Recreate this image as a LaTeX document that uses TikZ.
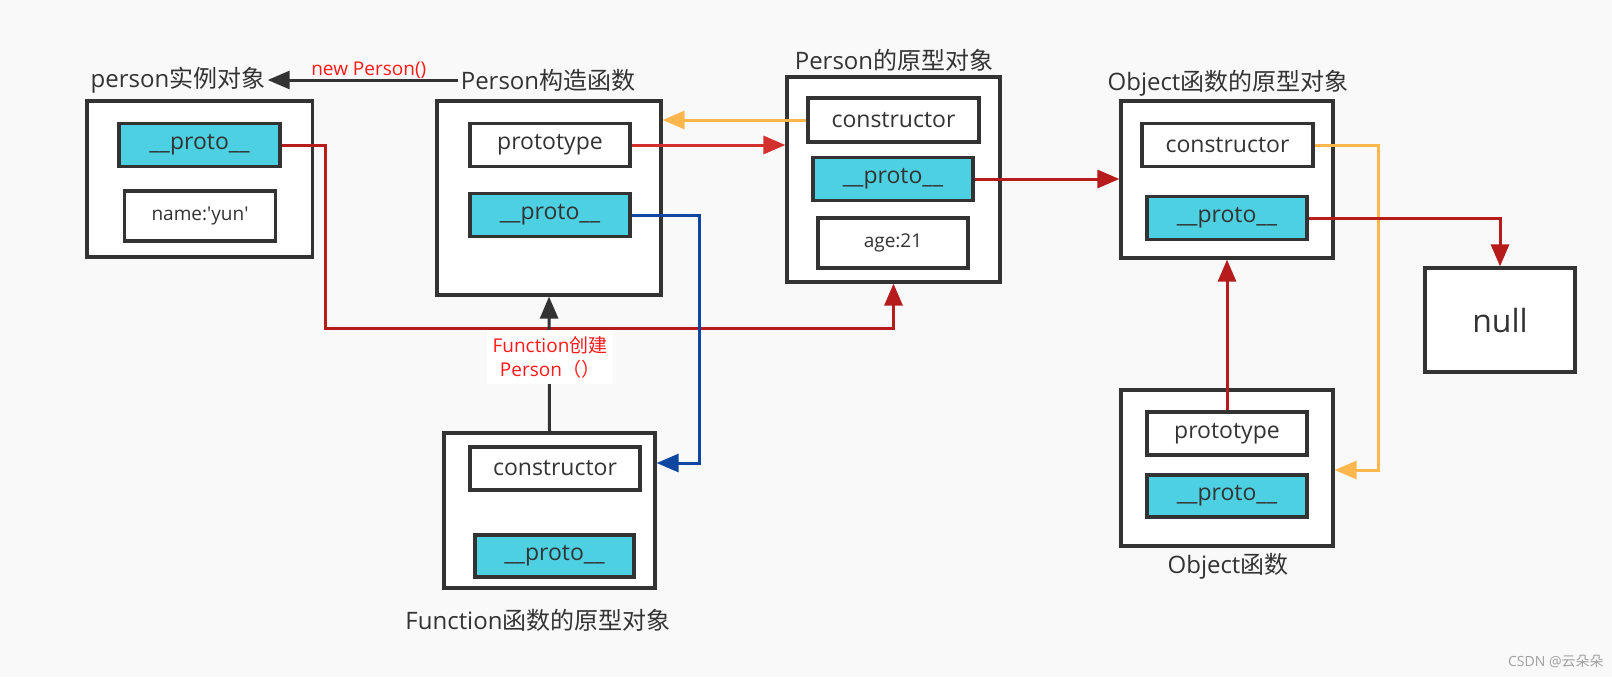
\documentclass[tikz,border=0pt]{standalone}
\usepackage{fontspec}
\setmainfont{Open Sans}
\newfontfamily\cjk{Noto Sans CJK SC}
\usetikzlibrary{arrows.meta,calc}
\definecolor{bg}{HTML}{F9F9F9}
\definecolor{bd}{HTML}{333333}
\definecolor{cy}{HTML}{4DD0E1}
\definecolor{rd}{HTML}{B71C1C}
\definecolor{rdb}{HTML}{D32F2F}
\definecolor{og}{HTML}{FFB74D}
\definecolor{bl}{HTML}{0D47A1}
\definecolor{lbred}{HTML}{FF1A1A}
\definecolor{wm}{HTML}{A0A0A0}
\begin{document}
\begin{tikzpicture}[x=0.5pt,y=-0.5pt,
  obox/.style={draw=bd,line width=1.6pt,fill=white,inner sep=0pt},
  fbox/.style={draw=bd,line width=1.6pt,fill=white,inner sep=0pt,text=bd,font=\fontsize{11.5}{13}\selectfont},
  cbox/.style={fbox,fill=cy},
  sbox/.style={fbox,font=\fontsize{9.5}{11}\selectfont},
  lab/.style={inner sep=1pt,text=bd,font=\fontsize{12}{14}\selectfont},
  conn/.style={line width=1.5pt,-{Triangle[length=11pt,width=9pt]}},
  redlab/.style={inner sep=1pt,text=lbred,font=\fontsize{9.5}{12}\selectfont}
]
\fill[bg] (0,0) rectangle (1612,677);
\useasboundingbox (0,0) rectangle (1612,677);

% person instance
\node[obox,minimum width=112.75pt,minimum height=78pt] (Ibox) at (199.8,179) {};
\node[cbox,minimum width=80.5pt,minimum height=21.75pt] (Iproto) at (199.5,145) {\_\_proto\_\_};
\node[sbox,minimum width=75.5pt,minimum height=25pt] (Iname) at (200,216) {name:\textquotesingle yun\textquotesingle};
\node[lab] (Ilab) at (178,80) {person{\cjk 实例对象}};

% Person constructor
\node[obox,minimum width=112pt,minimum height=97pt] (Pbox) at (549,198) {};
\node[fbox,minimum width=80pt,minimum height=21.5pt] (Ptype) at (550,145) {prototype};
\node[cbox,minimum width=80pt,minimum height=21.5pt] (Pproto) at (550,215) {\_\_proto\_\_};
\node[lab] (Plab) at (548,80) {Person{\cjk 构造函数}};

% Person prototype object
\node[obox,minimum width=106.5pt,minimum height=102.5pt] (PObox) at (893.5,179.5) {};
\node[fbox,minimum width=85.5pt,minimum height=22pt] (POctor) at (893.5,120) {constructor};
\node[cbox,minimum width=80pt,minimum height=21.5pt] (POproto) at (893,179) {\_\_proto\_\_};
\node[sbox,minimum width=75pt,minimum height=25pt] (POage) at (893,243) {age:21};
\node[lab] (POlab) at (894,60) {Person{\cjk 的原型对象}};

% Object prototype object
\node[obox,minimum width=106pt,minimum height=78.5pt] (OObox) at (1227,179.5) {};
\node[fbox,minimum width=85.5pt,minimum height=21.5pt] (OOctor) at (1227.5,145) {constructor};
\node[cbox,minimum width=80pt,minimum height=21.5pt] (OOproto) at (1227,218) {\_\_proto\_\_};
\node[lab] (OOlab) at (1228,83) {Object{\cjk 函数的原型对象}};

% null
\node[obox,text=bd,minimum width=75pt,minimum height=52pt,font=\fontsize{16}{18}\selectfont] (null) at (1500,320) {null};

% Object function
\node[obox,minimum width=106pt,minimum height=78pt] (OFbox) at (1227,468) {};
\node[fbox,minimum width=80pt,minimum height=21.5pt] (OFtype) at (1227,433.5) {prototype};
\node[cbox,minimum width=80pt,minimum height=21pt] (OFproto) at (1227,496) {\_\_proto\_\_};
\node[lab] (OFlab) at (1228,566) {Object{\cjk 函数}};

% Function prototype object
\node[obox,minimum width=105.5pt,minimum height=77.5pt] (Fbox) at (549.5,510.5) {};
\node[fbox,minimum width=85pt,minimum height=21.5pt] (Fctor) at (555,468.5) {constructor};
\node[cbox,minimum width=79.5pt,minimum height=21pt] (Fproto) at (554.5,556) {\_\_proto\_\_};
\node[lab] (Flab) at (538,620) {Function{\cjk 函数的原型对象}};

% bend coordinates
\coordinate (cr) at (325,328);
\coordinate (cb) at (699,463);
\coordinate (co) at (1378,470);

% connectors
\draw[conn,bd] (Plab.west) -- (Ilab.east) node[redlab,pos=0.47,above=-1pt] (newlab) {new Person()};
\draw[conn,rd] (Iproto.east) -| (cr) -| (PObox.south);
\draw[conn,rdb] (Ptype.east) -- (Ptype.east -| PObox.west);
\draw[conn,og] (POctor.west) -- (POctor.west -| Pbox.east);
\draw[conn,bl] (Pproto.east) -| (cb) -- (cb -| Fbox.east);
\draw[conn,bd] (Fbox.north) -- (Pbox.south);
\node[redlab,fill=white,align=center,inner sep=3pt] (fnlab) at (550,357) {Function{\cjk 创建}\\Person{\cjk （）}};
\draw[conn,rd] (POproto.east) -- (POproto.east -| OObox.west);
\draw[conn,og] (OOctor.east) -| (co) -- (co -| OFbox.east);
\draw[conn,rd] (OOproto.east) -| (null.north);
\draw[conn,rd] (OFtype.north) -- (OFtype.north |- OObox.south);

% watermark
\node[inner sep=0pt,text=wm,font=\fontsize{7}{8}\selectfont,anchor=east] (wmk) at (1604,661) {CSDN @{\cjk 云朵朵}};
\end{tikzpicture}
\end{document}
